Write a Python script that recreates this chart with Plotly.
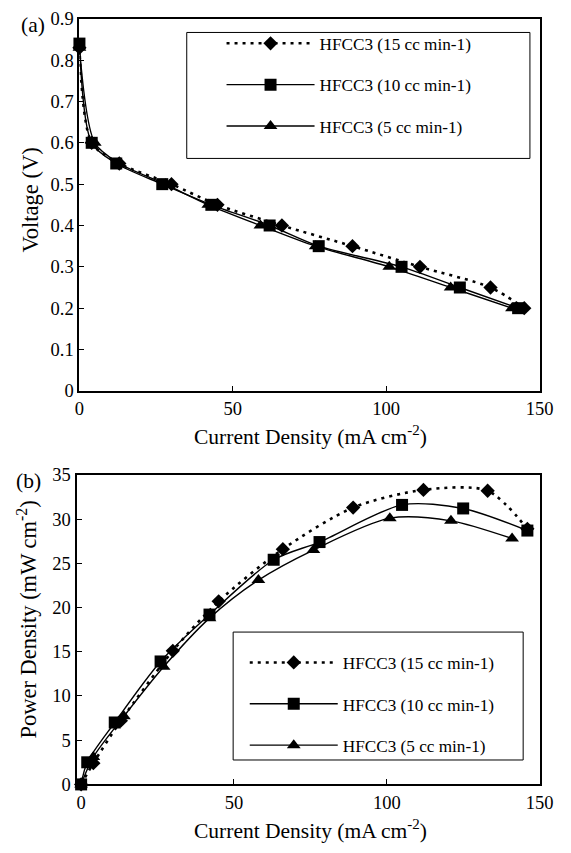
import plotly.graph_objects as go

W, H = 571, 853

# ---------------- data: panel (a) voltage vs current density ----------------
a_j15 = [0, 4, 13, 30, 45, 66, 89, 111, 134, 145]
a_v15 = [0.83, 0.60, 0.55, 0.50, 0.45, 0.40, 0.35, 0.30, 0.25, 0.20]
a_j10 = [0, 4, 12, 27, 43, 62, 78, 105, 124, 143]
a_v10 = [0.84, 0.60, 0.55, 0.50, 0.45, 0.40, 0.35, 0.30, 0.25, 0.20]
a_j5 = [0, 5, 13, 28, 42, 59, 77, 101, 121, 141]
a_v5 = [0.83, 0.60, 0.55, 0.50, 0.45, 0.40, 0.35, 0.30, 0.25, 0.20]

# ---------------- data: panel (b) power density vs current density ----------
b_j15 = [0, 4, 13, 30, 45, 66, 89, 112, 133, 146]
b_p15 = [0, 2.4, 7.2, 15.1, 20.7, 26.6, 31.3, 33.3, 33.2, 28.9]
b_j10 = [0, 2, 11, 26, 42, 63, 78, 105, 125, 146]
b_p10 = [0, 2.5, 7.0, 13.9, 19.2, 25.4, 27.4, 31.6, 31.2, 28.7]
b_j5 = [0, 4, 14, 27, 42, 58, 76, 101, 121, 141]
b_p5 = [0, 3.1, 7.7, 13.3, 18.8, 23.1, 26.5, 30.1, 29.8, 27.8]

names = ["HFCC3 (15 cc min-1)", "HFCC3 (10 cc min-1)", "HFCC3 (5 cc min-1)"]
x_ticks = [0, 50, 100, 150]
a_y_ticks = [0, 0.1, 0.2, 0.3, 0.4, 0.5, 0.6, 0.7, 0.8, 0.9]
a_y_labels = ["0", "0.1", "0.2", "0.3", "0.4", "0.5", "0.6", "0.7", "0.8", "0.9"]
b_y_ticks = [0, 5, 10, 15, 20, 25, 30, 35]

FONT = "Liberation Serif"
styles = [
    dict(symbol="diamond", size=11, dash="3px,5px", width=2.6),
    dict(symbol="square", size=12, dash="solid", width=1.4),
    dict(symbol="triangle-up", size=12, dash="solid", width=1.4),
]

fig = go.Figure()

panels = [
    ("x", "y", "legend", [(a_j15, a_v15), (a_j10, a_v10), (a_j5, a_v5)], "a"),
    ("x2", "y2", "legend2", [(b_j15, b_p15), (b_j10, b_p10), (b_j5, b_p5)], "b"),
]
for xa, ya, lg, series, tag in panels:
    for (xs, ys), name, st in zip(series, names, styles):
        fig.add_trace(go.Scatter(
            x=xs, y=ys, name=name, xaxis=xa, yaxis=ya, legend=lg,
            legendgroup=tag + name, mode="lines+markers", cliponaxis=False,
            line=dict(color="black", width=st["width"], dash=st["dash"],
                      shape="spline", smoothing=0.8),
            marker=dict(symbol=st["symbol"], size=st["size"], color="black",
                        line=dict(width=0)),
        ))

axis_common = dict(showline=True, linecolor="black", linewidth=2, mirror=True,
                   ticks="inside", ticklen=5, tickwidth=1, tickcolor="black",
                   showgrid=False, zeroline=False,
                   tickfont=dict(family=FONT, size=18.5, color="black"))

leg_common = dict(bgcolor="rgba(0,0,0,0)", borderwidth=0,
                  font=dict(family=FONT, size=17.2, color="black"),
                  itemwidth=88, tracegroupgap=16, traceorder="grouped",
                  xanchor="left", yanchor="top")

fig.update_layout(
    width=W, height=H, margin=dict(l=0, r=0, t=0, b=0),
    paper_bgcolor="white", plot_bgcolor="white", showlegend=True,
    font=dict(family=FONT, color="black"),
    xaxis=dict(domain=[77 / W, 553 / W], range=[0, 150], anchor="y",
               tickvals=x_ticks, **axis_common),
    yaxis=dict(domain=[1 - 390 / H, 1 - 9 / H], range=[0, 0.9], anchor="x",
               tickvals=a_y_ticks, ticktext=a_y_labels, **axis_common),
    xaxis2=dict(domain=[74 / W, 553 / W], range=[-1.5, 150], anchor="y2",
                tickvals=x_ticks, **axis_common),
    yaxis2=dict(domain=[1 - 793 / H, 1 - 476 / H], range=[0, 35], anchor="x2",
                tickvals=b_y_ticks, **axis_common),
    legend=dict(x=224 / W, y=1 - 16 / H, **leg_common),
    legend2=dict(x=248 / W, y=1 - 650 / H, **leg_common),
    shapes=[
        dict(type="rect", xref="paper", yref="paper",
             x0=188 / W, x1=543 / W, y0=1 - 152 / H, y1=1 - 23 / H,
             line=dict(color="black", width=1)),
        dict(type="rect", xref="paper", yref="paper",
             x0=236 / W, x1=536 / W, y0=1 - 768 / H, y1=1 - 637 / H,
             line=dict(color="black", width=1)),
    ],
)

txf = dict(family=FONT, size=21.5, color="black")
tyf = dict(family=FONT, size=22.5, color="black")
ann = [
    dict(text="Current Density (mA cm<sup>-2</sup>)", x=316 / W, y=1 - 436 / H, font=txf),
    dict(text="Current Density (mA cm<sup>-2</sup>)", x=316 / W, y=1 - 839 / H, font=txf),
    dict(text="Voltage (V)", x=26 / W, y=1 - 195 / H, textangle=-90, font=tyf),
    dict(text="Power Density (mW cm<sup>-2</sup>)", x=23 / W, y=1 - 624 / H, textangle=-90, font=tyf),
    dict(text="(a)", x=29 / W, y=1 - 15 / H, font=txf),
    dict(text="(b)", x=24 / W, y=1 - 482 / H, font=txf),
]
for a in ann:
    fig.add_annotation(xref="paper", yref="paper", showarrow=False,
                       xanchor="center", yanchor="middle", **a)

fig.write_html("out.html")
